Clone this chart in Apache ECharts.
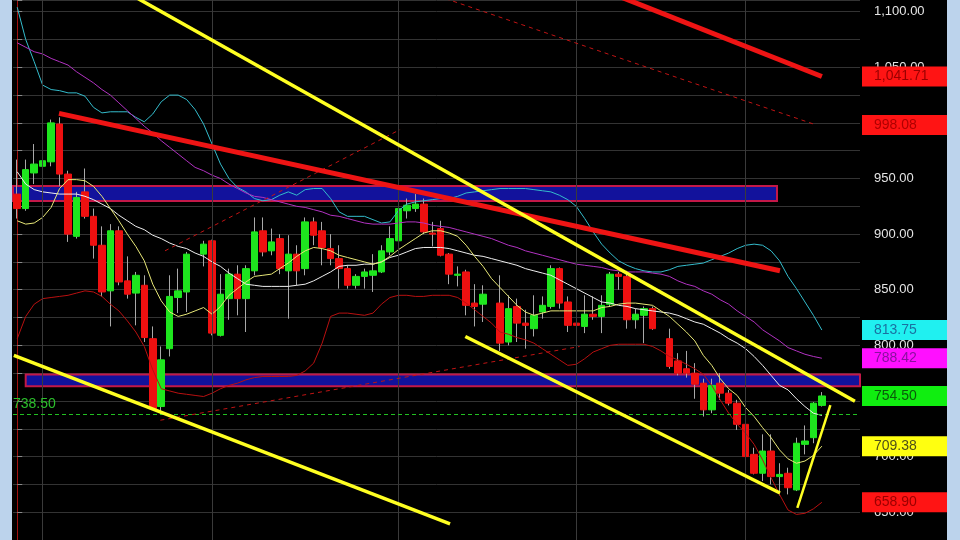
<!DOCTYPE html>
<html><head><meta charset="utf-8">
<script src="https://cdn.jsdelivr.net/npm/echarts@6/dist/echarts.min.js"></script>
<style>html,body{margin:0;padding:0;background:#000;}#c{width:960px;height:540px;}</style>
</head><body><div id="c"></div>
<script>
// ---------- DATA ----------
const opens = [936,923,955,961,965,999,954,898,938,916,890,849,903,858,847,854,806,745,797,843,848,null,882,894,809,842,864,842,867,903,885,896,867,882,869,911,903,887,878,869,854,862,863,866,884,894,921,923,927,901,905,882,863,866,838,837,null,838,803,835,820,815,830,835,869,839,820,817,828,826,837,864,862,823,827,833,null,806,786,779,775,766,742,766,757,748,729,702,685,705,682,685,670,711,717,746];
const closes = [923,958,963,966,1000,954,900,933,916,890,848,903,857,846,863,807,743,787,844,849,882,null,891,811,846,864,842,869,902,884,893,869,882,867,911,899,888,878,869,854,862,866,867,885,896,923,926,927,902,900,881,864,864,836,835,846,null,802,833,820,818,827,836,869,838,818,818,828,826,836,864,862,823,828,833,815,null,781,775,775,765,742,764,757,748,729,700,685,705,682,684,672,712,714,748,754.5];
const highs = [967,967,981,976,1003,1005,957,938,959,923,907,909,907,880,866,863,817,799,863,869,884,null,894,895,864,869,872,872,915,915,905,900,899,890,915,915,911,900,890,872,864,869,882,890,907,929,932,936,932,911,912,883,871,868,855,854,null,863,845,842,832,845,844,872,870,844,830,845,844,845,866,866,867,833,835,835,null,815,793,795,784,770,770,775,760,751,730,708,720,720,694,690,717,728,749,758];
const lows = [914,921,945,954,961,943,893,896,914,878,844,817,854,842,818,803,742,738.5,790,829,830,null,871,809,808,823,827,812,863,880,881,864,824,854,863,890,872,872,851,851,851,851,848,865,881,893,914,920,900,889,880,855,853,827,817,821,null,795,800,803,797,808,824,833,833,812,800,811,823,811,835,850,815,815,802,814,null,779,773,771,752,736,739,751,746,724,697,684,678,675,665,666,669,702,712,745];

const maYellow = [912,909,910,915,924,941,949,949,948,943,934,923,912,900,889,876,855,840,830,826,828,831,834,828,835,845,851,857,862,863,864,869,874,880,885,888,887,885,881,879,877,875,873,875,880,886,891,896,901,903,903,901,898,890,880,871,860,852,844,836,830,827,829,831,831,831,831,831,831,834,835,837,838,838,837,836,831,826,819,812,804,791,782,770,761,755,744,736,726,717,706,698,694,696,701,709.38];
const maWhite = [956,945,940,938,937,936,936,936,934,931,927,923,917,912,907,904,899,896,892,889,887,883,880,875,871,865,860,855,854,853,853,853,853,854,855,858,862,866,871,872,872,873,873,875,879,881,884,887,888,888,888,887,885,883,881,880,878,876,874,872,869,867,865,863,859,855,851,847,843,839,838,836,835,833,832,831,830,829,827,824,821,819,815,811,806,802,797,790,782,773,764,760,752,745,739,737];
const maMagenta = [1072,1068,1064,1062,1058,1055,1052,1046,1041,1036,1030,1025,1018,1011,1004,997,991,984,978,972,966,960,957,953,950,945,941,937,934,933,931,929,927,925,924,922,920,917,916,914,912,910,909,909,909,910,911,911,910,908,907,906,904,902,900,898,896,893,890,888,885,883,881,879,877,875,873,872,871,870,868,867,866,866,866,865,864,862,858,855,853,849,846,841,837,831,826,821,814,809,804,798,795,792,790,788.42];
const bandUpper = [1104,1075,1055,1034,1030,1029,1027,1027,1024,1014,1009,1010,1010,1010,1005,1001,1008,1019,1025,1025,1021,1012,999,981,963,950,942,938,932,930,931,935,938,935,940,941,941,932,920,916,916,916,913,910,911,921,927,929,930,931,932,932,934,937,938,939,940,941,941,941,941,940,939,938,935,931,925,914,902,891,883,876,872,869,867,866,866,868,871,872,873,874,877,880,883,887,890,891,890,885,876,862,851,839,827,813.75];
const bandLower = [806,826,837,842,843,844,845,847,849,848,844,837,831,822,812,799,778,761,759,757,756,755,754,757,761,764,766,769,771,772,772,772,772,773,777,784,802,826,829,829,828,827,829,837,843,845,845,844,844,845,845,845,843,838,832,826,820,812,810,807,805,802,797,792,787,782,783,788,794,797,800,801,801,801,801,799,795,790,787,783,779,774,764,751,739,729,721,711,697,681,666,652,648,649,653,658.90];

const slotCount = 100;
const categories = Array.from({length: slotCount}, (_, i) => 'D' + (i + 1));
const monthStarts = [3, 23, 45, 66, 86];

// trendlines: [slot index, price]
const trendRedLong = [[4.93, 1008.6], [90.05, 867.1]];
const trendRedTop = [[68, 1123], [95.0, 1041.7]];
const trendRedDashTop = [[47, 1121], [94.2, 998.5]];
const trendRedDashLeft = [[17.45, 885], [45.2, 994]];
const trendRedDashLow = [[16.9, 732.7], [66.4, 799]];
const trendYellowTop = [[10, 1130], [98.9, 749.7]];
const trendYellowLow = [[-0.4, 790.9], [51.1, 639.6]];
const trendYellowMid = [[52.9, 808], [90.05, 667.3]];
const trendYellowUp = [[92.1, 653.9], [96.0, 746.2]];

const zoneUpper = [943.2, 929.8];
const zoneUpperEnd = 89.7;
const zoneLower = [773.9, 763.2];
const zoneLowerStart = 1.0;

const supportLevel = 738.50;
const axisTagValues = [1041.71, 998.08, 813.75, 788.42, 754.50, 709.38, 658.90];

// ---------- STYLES ----------
const tagStyles = [
  {bg:'#ff1414', fg:'#9a0000'},
  {bg:'#ff1414', fg:'#b00000'},
  {bg:'#20f0f0', fg:'#1a70a0'},
  {bg:'#ff10ff', fg:'#8a10a0'},
  {bg:'#10ee10', fg:'#0a5a0a'},
  {bg:'#ffff10', fg:'#505018'},
  {bg:'#ff1414', fg:'#9a0000'}
];

function fmt(v){
  const s = Number(v).toFixed(2).split('.');
  return s[0].replace(/\B(?=(\d{3})+(?!\d))/g, ',') + '.' + s[1];
}

const wickData = opens.map((o, i) => o == null ? ['-','-','-','-'] : [o, closes[i], lows[i], highs[i]]);
const bodyData = opens.map((o, i) => o == null ? ['-','-','-','-'] : [o, closes[i], Math.min(o, closes[i]), Math.max(o, closes[i])]);

function maSeries(data, color){
  return {type:'line', data, symbol:'none', z:4, silent:true,
    lineStyle:{color, width:1}, xAxisIndex:0, yAxisIndex:0};
}
function trend(data, color, width, type){
  return {type:'line', data, xAxisIndex:1, yAxisIndex:0, symbol:'none', z:5, silent:true,
    lineStyle:{color, width, type: type || 'solid'}};
}

const chart = echarts.init(document.getElementById('c'), null, {renderer:'canvas'});
chart.setOption({
  animation:false,
  backgroundColor:'#000000',
  grid:{left:13, right:100, top:0, bottom:-2, containLabel:false},
  xAxis:[
    {type:'category', data:categories, boundaryGap:true, show:false},
    {type:'value', min:-0.5, max:slotCount - 0.5, show:false}
  ],
  yAxis:{
    type:'value', position:'right', min:625, max:1110.5, interval:25,
    axisLine:{show:true, lineStyle:{color:'#a01010', width:1}},
    axisTick:{show:true, length:5, lineStyle:{color:'#8a8a8a'}},
    splitLine:{show:true, lineStyle:{color:'#333333', width:1}},
    axisLabel:{color:'#e4e4e4', fontSize:13, fontFamily:'Arial, Liberation Sans', margin:14,
      formatter: v => (Math.abs(v % 50) < 1e-6 ? fmt(v) : '')}
  },
  graphic:[
    {type:'rect', left:0, top:0, shape:{width:12, height:540}, style:{fill:'#bcd3ec'}, z:100},
    {type:'rect', left:947, top:0, shape:{width:13, height:540}, style:{fill:'#bcd3ec'}, z:100}
  ],
  series:[
    {type:'line', xAxisIndex:1, yAxisIndex:0, data:[], z:1, silent:true,
      markArea:{silent:true,
        itemStyle:{color:'#12129c', borderColor:'#c41848', borderWidth:2},
        data:[
          [{coord:[-0.5, zoneUpper[0]]}, {coord:[zoneUpperEnd, zoneUpper[1]]}],
          [{coord:[zoneLowerStart, zoneLower[0]]}, {coord:[slotCount - 0.5, zoneLower[1]]}]
        ]},
      markLine:{silent:true, symbol:['none','none'],
        lineStyle:{color:'#3a3a3a', width:1, type:'solid'}, label:{show:false},
        data: monthStarts.map(m => ({xAxis:m}))}
    },
    {type:'candlestick', name:'wick', data:wickData, barWidth:1, z:2, silent:true,
      itemStyle:{color:'#a8a8a8', color0:'#a8a8a8', borderColor:'#a8a8a8', borderColor0:'#a8a8a8', borderWidth:1}},
    {type:'candlestick', name:'body', data:bodyData, barWidth:7, z:3, silent:true,
      itemStyle:{color:'#1ee61e', color0:'#ee1010', borderColor:'#1ee61e', borderColor0:'#ee1010', borderWidth:1},
      markLine:{silent:true, symbol:['none','none'],
        data:[{yAxis:supportLevel, lineStyle:{color:'#22c022', width:1, type:[4,3]},
          label:{show:true, position:'insideStartTop', formatter: p => Number(p.value).toFixed(2), color:'#2cc02c', fontSize:14, fontFamily:'Arial, Liberation Sans', distance:[0,3]}}]}
    },
    maSeries(bandLower, '#b81010'),
    maSeries(bandUpper, '#34bccc'),
    maSeries(maMagenta, '#b232c2'),
    maSeries(maWhite, '#eeeeee'),
    maSeries(maYellow, '#e8e878'),
    trend(trendRedDashTop, '#c01414', 1, [4,4]),
    trend(trendRedDashLeft, '#c01414', 1, [4,4]),
    trend(trendRedDashLow, '#c01414', 1, [4,4]),
    trend(trendRedLong, '#ee1414', 5),
    trend(trendRedTop, '#ee1414', 5),
    trend(trendYellowTop, '#ffff22', 3.5),
    trend(trendYellowLow, '#ffff22', 3.5),
    trend(trendYellowMid, '#ffff22', 3.5),
    trend(trendYellowUp, '#ffff22', 2.5),
    {type:'line', xAxisIndex:1, yAxisIndex:0, data:[], z:20, silent:true,
      markLine:{silent:true, symbol:['none','none'], lineStyle:{color:'rgba(0,0,0,0)', width:0},
        data: axisTagValues.map((v, k) => ({yAxis:v,
          label:{show:true, position:'end', distance:2, formatter: fmt(v),
            backgroundColor:tagStyles[k].bg, color:tagStyles[k].fg,
            fontSize:14, fontFamily:'Arial, Liberation Sans', padding:[3,4,3,12], width:70, height:14,
            align:'left', verticalAlign:'middle'}}))}
    }
  ]
});
</script></body></html>
